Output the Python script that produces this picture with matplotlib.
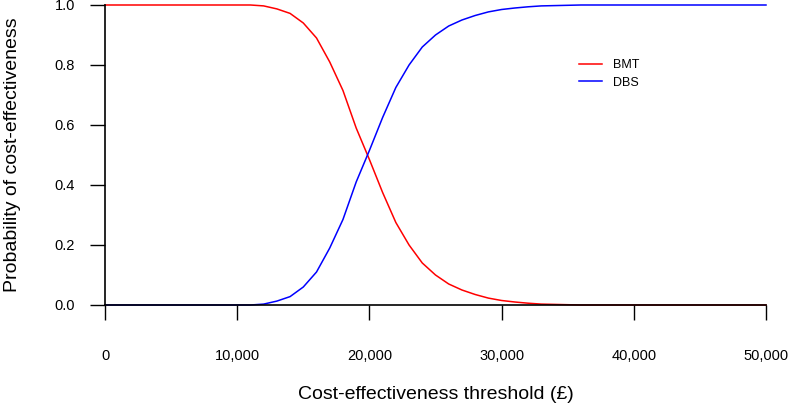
import matplotlib
matplotlib.use("Agg")
from matplotlib import pyplot as plt
from matplotlib.ticker import FuncFormatter

plt.rcParams['font.family'] = ['Liberation Sans', 'DejaVu Sans']

# willingness-to-pay thresholds (GBP), steps of 1,000
threshold = list(range(0, 50001, 1000))

# probability each strategy is cost-effective
bmt = [1.0, 1.0, 1.0, 1.0, 1.0, 1.0, 1.0, 1.0, 1.0, 1.0, 1.0,
       1.0, 0.997, 0.987, 0.972, 0.94, 0.89, 0.81, 0.715, 0.59, 0.485,
       0.375, 0.275, 0.20, 0.14, 0.10, 0.07, 0.05, 0.035, 0.023, 0.015,
       0.01, 0.006, 0.003, 0.002, 0.001, 0.0, 0.0, 0.0, 0.0, 0.0,
       0.0, 0.0, 0.0, 0.0, 0.0, 0.0, 0.0, 0.0, 0.0, 0.0]
dbs = [0.0, 0.0, 0.0, 0.0, 0.0, 0.0, 0.0, 0.0, 0.0, 0.0, 0.0,
       0.0, 0.003, 0.013, 0.028, 0.06, 0.11, 0.19, 0.285, 0.41, 0.515,
       0.625, 0.725, 0.80, 0.86, 0.90, 0.93, 0.95, 0.965, 0.977, 0.985,
       0.99, 0.994, 0.997, 0.998, 0.999, 1.0, 1.0, 1.0, 1.0, 1.0,
       1.0, 1.0, 1.0, 1.0, 1.0, 1.0, 1.0, 1.0, 1.0, 1.0]

x_ticks = [0, 10000, 20000, 30000, 40000, 50000]
y_ticks = [0.0, 0.2, 0.4, 0.6, 0.8, 1.0]

fig = plt.figure(figsize=(7.89, 4.05), dpi=100)
ax = fig.add_axes([105 / 789, 100 / 405, 661 / 789, 300 / 405])

ax.plot(threshold, bmt, color='#ff0000', lw=1.1, label='BMT', zorder=1, clip_on=False)
ax.plot(threshold, dbs, color='#0000ff', lw=1.1, label='DBS', zorder=1, clip_on=False)

ax.set_xlim(0, 50000)
ax.set_ylim(0, 1)
ax.set_xticks(x_ticks)
ax.set_yticks(y_ticks)
ax.xaxis.set_major_formatter(FuncFormatter(lambda v, p: f"{int(v):,}"))
ax.yaxis.set_major_formatter(FuncFormatter(lambda v, p: f"{v:.1f}"))

for s in ['top', 'right']:
    ax.spines[s].set_visible(False)
for s in ['left', 'bottom']:
    ax.spines[s].set_linewidth(1.2)
    ax.spines[s].set_zorder(3)

ax.tick_params(axis='x', direction='out', length=10.5, width=1.0, pad=21, labelsize=10.5)
ax.tick_params(axis='y', direction='out', length=10.5, width=1.0, pad=11, labelsize=10.5)

ax.set_xlabel('Cost-effectiveness threshold (£)', fontsize=14, labelpad=17)
ax.set_ylabel('Probability of cost-effectiveness', fontsize=14, labelpad=24)

ax.legend(loc='upper left', bbox_to_anchor=(579 / 789, 1 - 59 / 405),
          bbox_transform=fig.transFigure, frameon=False, fontsize=9,
          handlelength=1.85, handletextpad=0.85, labelspacing=0.45,
          borderpad=0, borderaxespad=0)

fig.savefig('out.png', dpi=100)
